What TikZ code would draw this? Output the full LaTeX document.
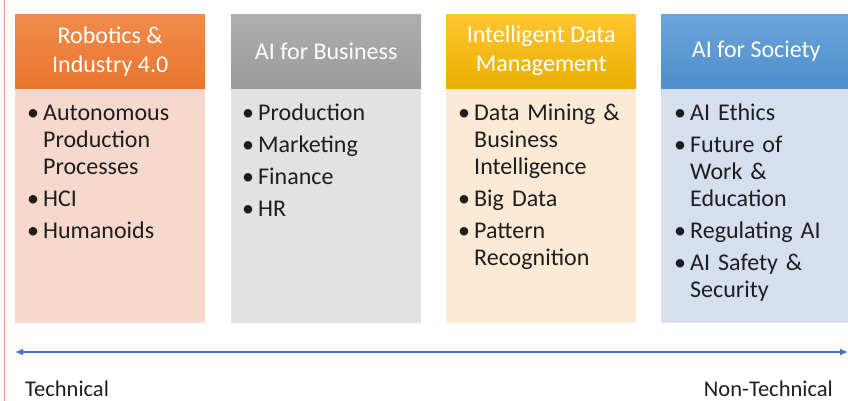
\documentclass[tikz,border=0pt]{standalone}
\usepackage{fontspec}
\setmainfont{Carlito}
\usetikzlibrary{arrows.meta}

\definecolor{robtop}{HTML}{F08B4C}  \definecolor{robbot}{HTML}{E8762C}  \definecolor{robbody}{HTML}{F7D8CD}
\definecolor{bustop}{HTML}{AEAEAE}  \definecolor{busbot}{HTML}{9B9B9B}  \definecolor{busbody}{HTML}{E2E2E2}
\definecolor{datop}{HTML}{FFC630}   \definecolor{dabot}{HTML}{EAAE00}   \definecolor{dabody}{HTML}{FCEAD4}
\definecolor{soctop}{HTML}{6BA5DC}  \definecolor{socbot}{HTML}{4F8DCB}  \definecolor{socbody}{HTML}{D6DFEF}
\definecolor{axis}{HTML}{4472C4}
\definecolor{rim}{HTML}{DCA27C}
\definecolor{ink}{HTML}{1E1E1E}

% one bullet point with hanging lines
\newcommand{\bitem}[1]{\hangindent=16pt\hangafter=1\noindent\makebox[16pt][l]{\textbullet}\strut#1\par}

\begin{document}
\begin{tikzpicture}[x=1pt,y=-1pt,
   head/.style={minimum width=190pt,minimum height=74pt,inner sep=0pt,anchor=north west,
                text=white,align=center,font=\fontsize{24}{29}\selectfont},
   body/.style={minimum width=190pt,minimum height=235pt,inner sep=0pt,anchor=north west},
   list/.style={anchor=north west,text width=174pt,align=left,inner sep=0pt,text=ink,
                font=\fontsize{24}{27}\selectfont\setlength{\parskip}{5pt}}]
  \useasboundingbox (0,0) rectangle (848,401);
  \fill[white] (0,0) rectangle (848,401);
  \draw[rim,line width=1pt] (4,0) -- (4,401);
  % column bodies
  \node[body,fill=robbody] (robbody) at (15,88)  {};
  \node[body,fill=busbody] (busbody) at (231,88) {};
  \node[body,fill=dabody]  (dabody)  at (446,88) {};
  \node[body,fill=socbody] (socbody) at (661,88) {};
  % headers
  \node[head,top color=robtop,bottom color=robbot] (robhead) at (15,14)  {Robotics \&\\Industry 4.0};
  \node[head,top color=bustop,bottom color=busbot] (bushead) at (231,14) {AI for Business};
  \node[head,top color=datop,bottom color=dabot]   (dahead)  at (446,14) {Intelligent Data\\Management};
  \node[head,top color=soctop,bottom color=socbot] (sochead) at (661,14) {AI for Society};
  % topics
  \node[list] (roblist) at (27,101) {\bitem{Autonomous\newline Production\newline Processes}
     \bitem{HCI}\bitem{Humanoids}};
  \node[list] (buslist) at (242,101) {\bitem{Production}\bitem{Marketing}\bitem{Finance}\bitem{HR}};
  \node[list] (dalist) at (458,101) {\bitem{Data Mining \&\newline Business\newline Intelligence}
     \bitem{Big Data}\bitem{Pattern\newline Recognition}};
  \node[list] (soclist) at (674,101) {\bitem{AI Ethics}\bitem{Future of\newline Work \&\newline Education}
     \bitem{Regulating AI}\bitem{AI Safety \&\newline Security}};
  % scale
  \coordinate (techend) at (15,352);
  \coordinate (nontechend) at (848,352);
  \draw[axis,line width=2pt,{Latex[length=8pt,width=7pt]}-{Latex[length=8pt,width=7pt]}] (techend) -- (nontechend);
  \node[anchor=base west,text=ink,font=\fontsize{22.5}{27}\selectfont,inner sep=0pt] (tech) at (25,396) {Technical};
  \node[anchor=base east,text=ink,font=\fontsize{22.5}{27}\selectfont,inner sep=0pt] (nontech) at (833,396) {Non-Technical};
\end{tikzpicture}
\end{document}
